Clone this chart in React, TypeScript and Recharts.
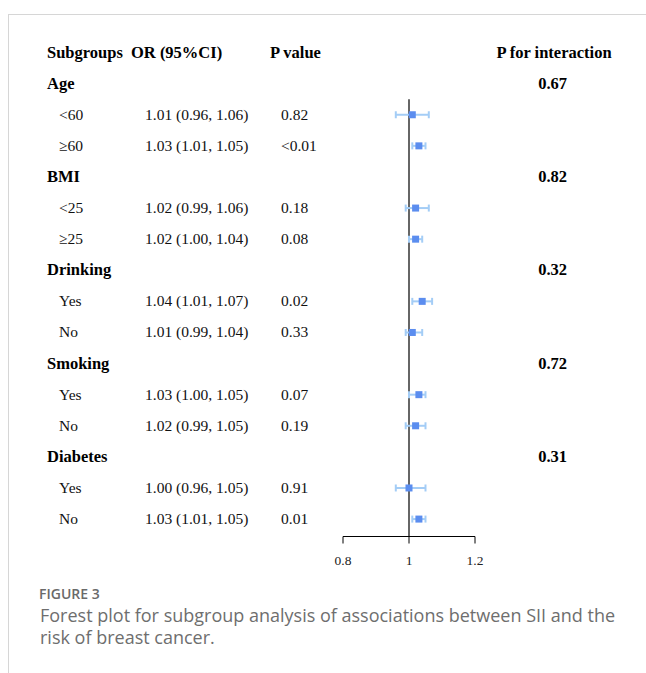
import { ErrorBar, ReferenceLine, Scatter, ScatterChart, XAxis, YAxis } from "recharts";

const headers = ["Subgroups", "OR (95%CI)", "P value", "P for interaction"];
const groups = ["Age", "BMI", "Drinking", "Smoking", "Diabetes"];
const interactionP = ["0.67", "0.82", "0.32", "0.72", "0.31"];
const levels = [
  ["<60", "≥60"],
  ["<25", "≥25"],
  ["Yes", "No"],
  ["Yes", "No"],
  ["Yes", "No"],
];
const orValues = [1.01, 1.03, 1.02, 1.02, 1.04, 1.01, 1.03, 1.02, 1.0, 1.03];
const ciLow = [0.96, 1.01, 0.99, 1.0, 1.01, 0.99, 1.0, 0.99, 0.96, 1.01];
const ciHigh = [1.06, 1.05, 1.06, 1.04, 1.07, 1.04, 1.05, 1.05, 1.05, 1.05];
const pValues = ["0.82", "<0.01", "0.18", "0.08", "0.02", "0.33", "0.07", "0.19", "0.91", "0.01"];
const xTicks = [0.8, 1, 1.2];

type Row =
  | { kind: "header" }
  | { kind: "group"; label: string; pInt: string }
  | { kind: "level"; label: string; k: number };

// row 0 = header, then a group row followed by its two levels
const rows: Row[] = [{ kind: "header" }];
groups.forEach((g, gi) => {
  rows.push({ kind: "group", label: g, pInt: interactionP[gi] });
  levels[gi].forEach((lv, li) => rows.push({ kind: "level", label: lv, k: gi * 2 + li }));
});

const points = rows
  .map((r, i) => ({ r, i }))
  .filter((d) => d.r.kind === "level")
  .map(({ r, i }) => {
    const k = (r as { k: number }).k;
    const or = orValues[k];
    return { y: i, or, ci: [or - ciLow[k], ciHigh[k] - or] };
  });

const SERIF = "'Liberation Serif', 'Times New Roman', serif";

const fmt = (v: number) => v.toFixed(2);

const renderRow = (props: any) => {
  const { y, payload } = props;
  const row = rows[Math.round(payload.value)];
  if (!row) return <g />;
  const by = y + 5;
  if (row.kind === "header") {
    return (
      <g fontFamily={SERIF} fontWeight="bold" fontSize={16.5} fill="#000">
        <text x={47} y={by}>{headers[0]}</text>
        <text x={131} y={by}>{headers[1]}</text>
        <text x={270} y={by}>{headers[2]}</text>
        <text x={554} y={by} textAnchor="middle">{headers[3]}</text>
      </g>
    );
  }
  if (row.kind === "group") {
    return (
      <g fontFamily={SERIF} fontWeight="bold" fontSize={16.5} fill="#000">
        <text x={47} y={by}>{row.label}</text>
        <text x={567} y={by} textAnchor="end">{row.pInt}</text>
      </g>
    );
  }
  const k = row.k;
  return (
    <g fontFamily={SERIF} fontSize={15.5} fill="#111">
      <text x={59} y={by}>{row.label}</text>
      <text x={145} y={by}>{`${fmt(orValues[k])} (${fmt(ciLow[k])}, ${fmt(ciHigh[k])})`}</text>
      <text x={281} y={by}>{pValues[k]}</text>
    </g>
  );
};

const Square = (props: any) => {
  const { cx, cy } = props;
  return <rect x={cx - 3.5} y={cy - 3.5} width={7} height={7} fill="#5b8def" />;
};

export default function App() {
  return (
    <div
      style={{
        position: "absolute",
        left: 0,
        top: 0,
        width: 646,
        height: 673,
        background: "#fff",
        overflow: "hidden",
      }}
    >
      <div
        style={{
          position: "absolute",
          left: 8,
          top: 14,
          right: 0,
          bottom: 0,
          borderTop: "1px solid #d6d6d6",
          borderLeft: "1px solid #d6d6d6",
        }}
      />
      <div style={{ position: "absolute", left: 0, top: 0 }}>
        <ScatterChart
          width={646}
          height={580}
          margin={{ top: 37, right: 171, bottom: 13.5, left: 333 }}
        >
          <XAxis
            type="number"
            dataKey="or"
            domain={[0.8, 1.2]}
            ticks={xTicks}
            tickSize={7}
            tickMargin={12}
            height={30}
            stroke="#000"
            tick={{ fontFamily: SERIF, fontSize: 13.5, fill: "#222" }}
            tickFormatter={(v: number) => String(v)}
          />
          <YAxis
            type="number"
            dataKey="y"
            reversed
            domain={[-0.5, 15.56]}
            ticks={rows.map((_, i) => i)}
            interval={0}
            width={10}
            axisLine={false}
            tickLine={false}
            tick={renderRow}
          />
          <ReferenceLine
            segment={[
              { x: 1, y: 1.5 },
              { x: 1, y: 15.56 },
            ]}
            stroke="#333"
            strokeWidth={1.5}
          />
          <Scatter data={points} shape={<Square />} isAnimationActive={false}>
            <ErrorBar dataKey="ci" direction="x" width={3.5} stroke="#a4cdf6" strokeWidth={2} />
          </Scatter>
        </ScatterChart>
      </div>
      <div
        style={{
          position: "absolute",
          left: 39,
          top: 585.5,
          fontFamily: "'Open Sans', sans-serif",
          fontWeight: 600,
          fontSize: 14,
          lineHeight: "16px",
          color: "#6a6a6a",
        }}
      >
        FIGURE 3
      </div>
      <div
        style={{
          position: "absolute",
          left: 40,
          top: 604,
          width: 600,
          fontFamily: "'Open Sans', sans-serif",
          fontSize: 18,
          lineHeight: "22px",
          color: "#6e6e6e",
        }}
      >
        Forest plot for subgroup analysis of associations between SII and the risk of breast cancer.
      </div>
    </div>
  );
}
